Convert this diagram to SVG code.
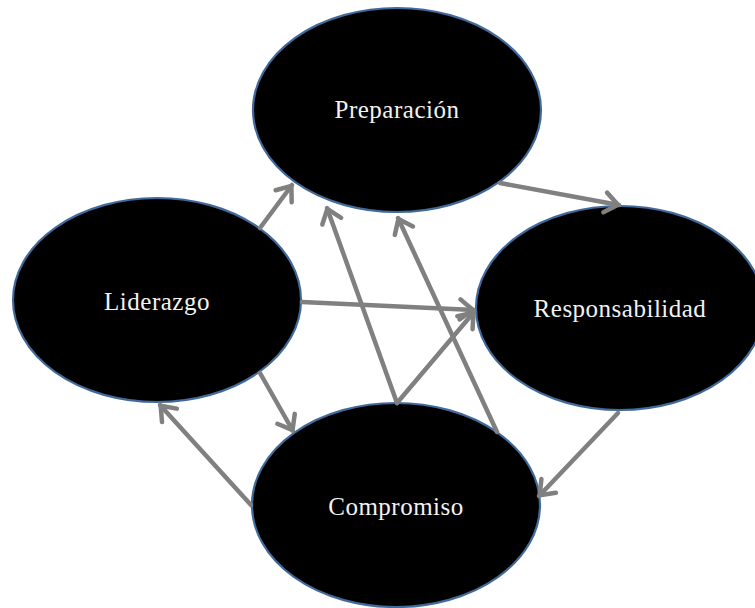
<svg xmlns="http://www.w3.org/2000/svg" width="755" height="608" viewBox="0 0 755 608">
  <style>
    .node { fill: #000000; stroke: #41699a; stroke-width: 2.2; }
    .label { fill: #f2f2f2; font-family: "Liberation Serif", "Times New Roman", serif; font-size: 25px; text-anchor: middle; letter-spacing: 0.5px; }
    .edge { fill: none; stroke: #808080; stroke-width: 4.5; stroke-linecap: round; marker-end: url(#ah); }
  </style>
  <defs>
    <marker id="ah" markerUnits="userSpaceOnUse" markerWidth="34" markerHeight="34" viewBox="-17 -17 34 34" refX="0" refY="0" orient="auto">
      <path d="M-14,-10 L-1,0 L-14,10" fill="none" stroke="#808080" stroke-width="4.5" stroke-linecap="round" stroke-linejoin="round"/>
    </marker>
  </defs>
  <rect width="755" height="608" fill="#ffffff"/>
  <g id="preparacion">
    <ellipse class="node" cx="397" cy="110" rx="144" ry="102"/>
    <text class="label" x="397" y="118">Preparación</text>
  </g>
  <g id="liderazgo">
    <ellipse class="node" cx="157" cy="300" rx="144" ry="102"/>
    <text class="label" x="157" y="310">Liderazgo</text>
  </g>
  <g id="responsabilidad">
    <ellipse class="node" cx="620" cy="308" rx="144" ry="102"/>
    <text class="label" x="620" y="317">Responsabilidad</text>
  </g>
  <g id="compromiso">
    <ellipse class="node" cx="396" cy="505" rx="144" ry="102"/>
    <text class="label" x="396" y="515">Compromiso</text>
  </g>
  <g id="connectors">
    <line class="edge" x1="260" y1="228" x2="292" y2="185"/>
    <line class="edge" x1="500" y1="183" x2="619" y2="205"/>
    <line class="edge" x1="302" y1="302" x2="474" y2="310"/>
    <line class="edge" x1="397" y1="403" x2="327" y2="208"/>
    <line class="edge" x1="397" y1="403" x2="474" y2="312"/>
    <line class="edge" x1="497" y1="432" x2="398" y2="218"/>
    <line class="edge" x1="260" y1="373" x2="293" y2="431"/>
    <line class="edge" x1="251" y1="505" x2="160" y2="405"/>
    <line class="edge" x1="618" y1="413" x2="539" y2="496"/>
  </g>
</svg>
